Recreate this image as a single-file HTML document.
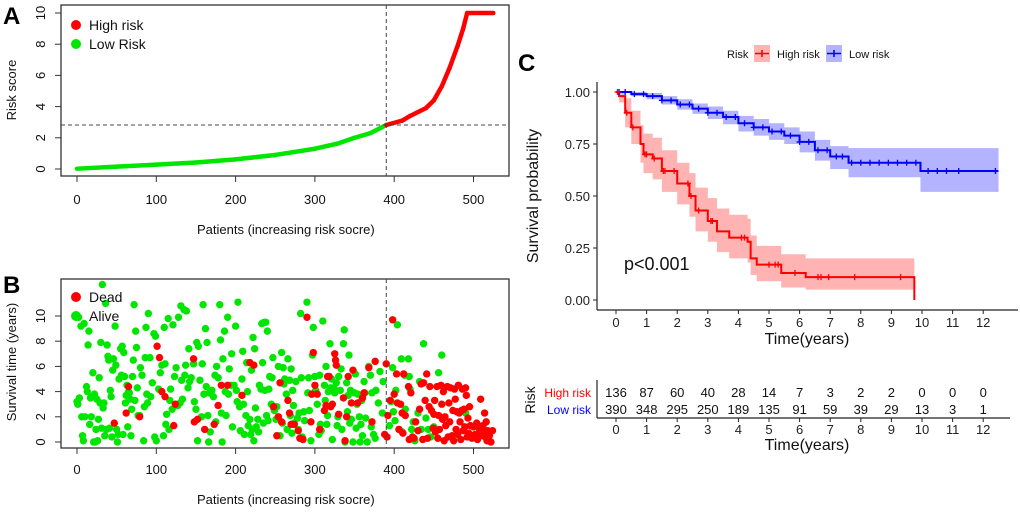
<!DOCTYPE html>
<html><head><meta charset="utf-8"><style>
html,body{margin:0;padding:0;background:#fff}
svg{display:block;font-family:"Liberation Sans",Arial,sans-serif}
</style></head><body>
<svg id="fig" width="1020" height="512" viewBox="0 0 1020 512">
<g id="panelA"></g>
<g id="panelB"></g>
<g id="panelC"></g>
</svg>
<script>
// ===== Panel A data =====
const riskPatients=[0,50,100,150,200,250,300,330,350,370,390,410,420,440,450,460,470,480,487,492,525];
const riskScores=[0.02,0.15,0.28,0.42,0.62,0.9,1.3,1.65,2.0,2.3,2.82,3.1,3.4,3.9,4.4,5.3,6.5,7.9,9.0,10,10];
const riskCutPatient=390;
const riskCutScore=2.82;
const xTicksPatients=[0,100,200,300,400,500];
const yTicksRisk=[0,2,4,6,8,10];
// ===== Panel B data =====
const alivePatients=[0,1,2,3,5,6,7,8,9,10,12,13,14,15,16,17,18,19,20,21,22,23,24,25,26,27,28,29,30,31,32,33,34,35,36,37,38,39,40,41,42,43,44,45,46,48,49,50,51,52,53,55,56,57,58,59,60,61,62,63,64,65,66,67,68,69,70,71,72,73,74,75,76,77,79,80,82,84,85,86,87,88,89,90,92,93,95,97,98,99,100,103,105,107,109,110,111,112,113,115,116,117,118,120,121,123,125,127,128,130,131,132,133,135,136,137,138,140,141,142,144,147,148,150,151,152,153,155,157,158,159,160,162,163,164,165,166,167,168,170,172,174,175,176,178,180,181,182,183,184,186,187,188,190,191,192,194,195,196,198,200,201,202,203,205,206,208,209,210,211,213,214,215,216,218,219,220,221,222,223,224,225,226,228,229,230,232,233,234,235,236,237,238,239,240,241,242,243,245,246,247,248,249,251,252,254,256,258,259,260,261,262,264,265,266,268,269,270,271,272,273,274,276,278,279,280,282,283,284,286,287,290,291,292,293,295,296,297,298,300,301,303,305,306,307,308,310,312,313,314,315,316,317,319,320,321,322,324,325,327,328,329,330,332,333,334,336,337,338,340,341,342,343,344,345,346,348,350,351,352,353,354,356,357,358,359,360,362,363,364,366,368,370,371,372,374,376,377,380,382,385,386,394,396,398,399,401,402,404,406,409,410,413,414,418,419,420,422,424,426,430,432,434,437,440,443,446,450,456,460,490,495,505];
const aliveTimes=[3.2,3.0,9.9,3.5,9.2,2.0,0.5,0.1,9.4,2.0,4.4,4.0,7.7,8.8,1.4,3.5,2.0,3.6,5.5,0,3.8,0,1.0,3.4,0.1,1.8,5.1,3.1,7.9,1.1,12.5,2.7,3.1,0.5,11.0,1.0,7.7,6.8,6.5,1.1,4.1,3.6,0.4,5.7,6.6,9.2,6.1,1.0,0.0,0.6,5.0,7.4,5.3,7.6,0.6,7.1,5.2,3.1,3.7,4.5,1.2,4.0,3.9,3.4,0.5,2.6,5.2,6.5,10.9,3.3,8.8,7.5,4.3,2.1,2.1,5.9,5.3,0.1,2.8,6.7,9.1,3.8,3.1,10.2,6.7,3.6,4.7,8.6,0.4,8.4,0.1,4.2,5.5,6.1,0.5,9.1,6.2,1.4,2.2,9.8,1.0,3.3,4.2,2.6,9.3,5.2,5.9,2.9,9.9,3.1,10.8,4.9,3.4,10.5,5.3,6.1,10.4,4.3,7.4,4.8,5.1,6.2,3.2,2.6,7.9,0.1,7.6,4.9,2.0,6.2,10.9,3.8,9.0,4.4,7.9,2.1,0.0,3.9,0.8,4.1,3.6,5.3,1.6,6.0,5.1,10.9,8.1,2.3,0.0,6.6,8.8,4.0,2.1,9.9,3.8,5.8,4.5,7.0,1.2,4.5,9.2,4.1,3.2,11.1,2.8,0.9,5.0,7.2,3.0,0.6,2.1,6.3,4.0,1.3,1.8,0.6,5.7,1.0,8.3,0.1,7.4,2.7,1.2,1.8,0.8,4.5,4.2,9.4,6.3,1.5,9.5,4.1,9.5,2.1,8.8,1.7,4.2,5.2,3.0,5.1,6.7,2.7,2.5,1.8,2.8,6.0,0.5,7.1,1.5,5.9,4.6,5.0,3.8,1.0,6.6,4.9,2.1,5.8,0.7,4.1,2.9,1.5,4.8,1.9,1.0,2.3,10.2,5.1,0.4,2.4,1.7,11.1,3.9,5.1,2.5,0.1,3.8,6.9,9.1,5.2,4.1,3.0,0.6,5.3,1.4,0.9,9.6,4.5,3.3,6.0,1.4,2.1,4.0,7.8,4.3,5.0,0.2,4.3,3.9,4.7,1.3,2.0,5.2,4.1,5.8,1.0,7.8,8.9,0.0,4.7,2.4,3.7,6.9,1.5,4.1,1.8,0.0,3.9,5.4,1.1,3.0,3.8,2.0,0.0,1.4,3.3,0.5,4.8,3.9,1.9,0.0,6.0,5.3,1.2,3.9,0.6,0.3,4.1,3.1,5.6,2.3,4.8,1.3,3.2,5.9,2.4,1.7,4.1,9.3,1.0,6.6,0.8,5.3,2.6,6.6,5.2,4.2,1.0,1.6,0.1,2.3,4.8,1.0,7.8,1.9,1.0,0.4,1.2,5.5,6.9,2.3,0.5,1.4];
const deadPatients=[47,65,62,79,101,104,107,111,122,124,147,148,152,161,173,178,182,190,208,218,223,248,252,254,256,258,266,268,270,274,279,281,285,290,295,296,298,300,303,306,312,314,316,318,320,322,325,326,327,330,336,338,340,342,346,348,354,360,362,368,372,376,388,390,391,392,395,398,400,403,404,406,408,410,411,412,414,418,419,421,423,425,427,430,432,434,436,437,439,441,442,444,445,447,449,450,451,452,454,455,456,457,459,460,461,462,463,464,465,467,468,469,470,471,473,474,475,476,477,478,479,480,481,482,483,484,485,486,487,488,489,490,491,492,493,494,495,496,498,500,502,504,505,507,508,509,510,512,513,514,515,516,517,518,520,522,524];
const deadTimes=[1.5,4.4,2.3,2.0,7.6,6.7,4.0,3.6,1.3,3.0,6.6,1.6,1.8,1.0,1.4,2.9,4.5,4.5,3.7,6.3,6.1,2.8,0.5,2.0,4.7,1.6,3.3,2.3,1.4,1.4,0.9,0.3,0.2,9.9,1.6,3.8,7.1,4.5,3.8,1.0,2.5,2.9,5.2,5.2,2.8,3.0,7.0,6.5,6.1,2.2,3.5,0.1,2.0,5.2,3.1,5.7,3.1,3.5,3.9,5.9,1.6,6.4,0.6,6.2,0.4,2.1,3.3,9.7,3.8,5.4,3.1,1.0,3.0,2.3,0.7,5.4,2.1,4.4,0.2,3.9,0.4,0.3,1.6,0.9,2.6,4.6,0.2,4.7,3.3,5.4,0.3,2.8,4.4,2.5,1.1,2.2,3.3,0.8,4.4,0.3,2.1,1.0,4.5,3.0,1.8,4.0,0.1,2.0,1.3,4.4,0.4,3.1,1.6,4.3,0.5,2.5,0.1,4.2,3.4,1.0,2.4,0.6,4.5,2.3,1.6,0.2,2.5,4.2,0.9,2.6,1.2,4.3,3.7,0.4,1.9,0.7,2.8,1.3,0.3,1.2,0.6,1.5,0.2,1.1,0.9,3.4,0.5,1.3,0.8,2.3,0.4,1.6,0.1,0.9,0.5,0.0,0.9];
const yTicksSurv=[0,2,4,6,8,10];
// ===== Panel C data =====
const highTimes=[0,0.1,0.3,0.5,0.8,0.9,1.2,1.5,2.0,2.4,2.6,3.0,3.3,3.7,4.3,4.4,4.6,5.4,6.2,9.75];
const highSurv=[1,0.98,0.9,0.83,0.75,0.7,0.68,0.62,0.56,0.5,0.43,0.38,0.33,0.3,0.28,0.2,0.17,0.13,0.11,0.11];
const highUpper=[1,1,0.97,0.91,0.84,0.8,0.78,0.72,0.66,0.61,0.54,0.49,0.44,0.41,0.39,0.31,0.26,0.22,0.2,0.2];
const highLower=[1,0.95,0.83,0.75,0.66,0.61,0.58,0.52,0.46,0.4,0.33,0.28,0.23,0.2,0.18,0.12,0.09,0.06,0.05,0.05];
const lowTimes=[0,0.5,1,1.5,2,2.5,3,3.5,4,4.5,5,5.5,6,6.5,7,7.6,9.95,12.5];
const lowSurv=[1,0.99,0.98,0.96,0.94,0.92,0.9,0.88,0.85,0.83,0.81,0.79,0.76,0.72,0.69,0.66,0.62,0.62];
const lowUpper=[1,1,0.995,0.98,0.965,0.945,0.93,0.91,0.885,0.87,0.85,0.83,0.81,0.77,0.74,0.73,0.73,0.73];
const lowLower=[1,0.98,0.965,0.94,0.915,0.895,0.87,0.845,0.81,0.79,0.77,0.75,0.71,0.67,0.63,0.59,0.52,0.52];
const highCensor=[0.05,0.35,0.55,0.95,1.0,1.25,1.55,1.6,1.9,2.35,2.45,2.7,3.1,3.15,4.1,4.2,5.0,5.2,5.3,5.85,6.6,6.7,6.95,7.8,9.3];
const lowCensor=[0.1,0.3,0.6,0.9,1.2,1.5,1.8,2.1,2.4,2.7,3.0,3.3,3.6,3.9,4.2,4.5,4.8,5.1,5.4,5.7,6.0,6.3,6.6,6.9,7.2,7.4,7.7,8.0,8.3,8.6,8.9,9.2,9.5,9.8,10.2,10.5,10.8,11.2,12.4];
const kmTicks=[0,1,2,3,4,5,6,7,8,9,10,11,12];
const yTicksProb=[0,0.25,0.5,0.75,1];
const yTickProbLabels=["0.00","0.25","0.50","0.75","1.00"];
const highAtRisk=[136,87,60,40,28,14,7,3,2,2,0,0,0];
const lowAtRisk=[390,348,295,250,189,135,91,59,39,29,13,3,1];

const NS="http://www.w3.org/2000/svg";
function mk(parent,tag,attrs,text){const e=document.createElementNS(NS,tag);for(const k in attrs)e.setAttribute(k,attrs[k]);if(text!==undefined)e.textContent=text;parent.appendChild(e);return e;}
const RED="#ff0000",GREEN="#00e600";
const px=p=>77+p*0.793;

// ---------- Panel A ----------
const A=document.getElementById('panelA');
const ay=v=>169-v*15.6;
let e=mk(A,'rect',{x:61,y:5,width:448,height:171,fill:'none',stroke:'#333','stroke-width':1.3});


xTicksPatients.forEach(t=>{mk(A,'line',{x1:px(t),x2:px(t),y1:176,y2:182,stroke:'#333'});
 e=mk(A,'text',{x:px(t),y:204,'font-size':13,'text-anchor':'middle',fill:'#111'},t);
 
 });
yTicksRisk.forEach(t=>{mk(A,'line',{x1:55,x2:61,y1:ay(t),y2:ay(t),stroke:'#333'});
 e=mk(A,'text',{x:0,y:0,transform:`translate(45,${ay(t)}) rotate(-90)`,'font-size':13,'text-anchor':'middle',fill:'#111'},t);
 
 });
for(let i=0;i<riskPatients.length-1;i++){
 const c=riskPatients[i]>=riskCutPatient?RED:GREEN;
 e=mk(A,'line',{x1:px(riskPatients[i]),y1:ay(riskScores[i]),x2:px(riskPatients[i+1]),y2:ay(riskScores[i+1]),stroke:c,'stroke-width':4.5,'stroke-linecap':'round'});
 
 
}
mk(A,'line',{x1:61,x2:509,y1:ay(riskCutScore),y2:ay(riskCutScore),stroke:'#444','stroke-dasharray':'4,3'});
mk(A,'line',{x1:px(riskCutPatient),x2:px(riskCutPatient),y1:5,y2:176,stroke:'#444','stroke-dasharray':'4,3'});
mk(A,'circle',{cx:76,cy:25,r:5,fill:RED});
e=mk(A,'text',{x:89,y:30,'font-size':14,fill:'#111'},'High risk');


mk(A,'circle',{cx:76,cy:44,r:5,fill:GREEN});
e=mk(A,'text',{x:89,y:49,'font-size':14,fill:'#111'},'Low Risk');


e=mk(A,'text',{x:197,y:234,'font-size':13,fill:'#111'},'Patients (increasing risk socre)');


e=mk(A,'text',{x:0,y:0,transform:'translate(16,90) rotate(-90)','font-size':13,'text-anchor':'middle',fill:'#111'},'Risk score');


e=mk(A,'text',{x:3,y:24,'font-size':24,'font-weight':'bold',fill:'#000'},'A');



// ---------- Panel B ----------
const B=document.getElementById('panelB');
const by=v=>442-v*12.6;
e=mk(B,'rect',{x:61,y:279,width:448,height:169,fill:'none',stroke:'#333','stroke-width':1.3});


xTicksPatients.forEach(t=>{mk(B,'line',{x1:px(t),x2:px(t),y1:448,y2:454,stroke:'#333'});
 e=mk(B,'text',{x:px(t),y:474,'font-size':13,'text-anchor':'middle',fill:'#111'},t);
 
 });
yTicksSurv.forEach(t=>{mk(B,'line',{x1:55,x2:61,y1:by(t),y2:by(t),stroke:'#333'});
 e=mk(B,'text',{x:0,y:0,transform:`translate(45,${by(t)}) rotate(-90)`,'font-size':13,'text-anchor':'middle',fill:'#111'},t);
 
 });
alivePatients.forEach((p,i)=>{e=mk(B,'circle',{cx:px(p),cy:by(aliveTimes[i]),r:3.7,fill:GREEN});
 
 });
deadPatients.forEach((p,i)=>{e=mk(B,'circle',{cx:px(p),cy:by(deadTimes[i]),r:3.7,fill:RED});
 
 });
mk(B,'line',{x1:px(riskCutPatient),x2:px(riskCutPatient),y1:279,y2:448,stroke:'#444','stroke-dasharray':'4,3'});
mk(B,'circle',{cx:76,cy:297,r:5,fill:RED});
e=mk(B,'text',{x:89,y:302,'font-size':14,fill:'#111'},'Dead');


mk(B,'circle',{cx:76,cy:316,r:5,fill:GREEN});
e=mk(B,'text',{x:89,y:321,'font-size':14,fill:'#111'},'Alive');


e=mk(B,'text',{x:197,y:504,'font-size':13,fill:'#111'},'Patients (increasing risk socre)');


e=mk(B,'text',{x:0,y:0,transform:'translate(16,362) rotate(-90)','font-size':13,'text-anchor':'middle',fill:'#111'},'Survival time (years)');


e=mk(B,'text',{x:3,y:293,'font-size':24,'font-weight':'bold',fill:'#000'},'B');



// ---------- Panel C ----------
const C=document.getElementById('panelC');
const cx=t=>616+t*30.6, cy=s=>300-s*208;
function stepPath(ts,vs){let d=`M${cx(ts[0])},${cy(vs[0])}`;for(let i=1;i<ts.length;i++){d+=`H${cx(ts[i])}V${cy(vs[i])}`;}return d;}
function bandPath(ts,up,lo){let d=`M${cx(ts[0])},${cy(up[0])}`;for(let i=1;i<ts.length;i++)d+=`H${cx(ts[i])}V${cy(up[i])}`;
 d+=`V${cy(lo[lo.length-1])}`;for(let i=ts.length-1;i>0;i--)d+=`H${cx(ts[i])}V${cy(lo[i-1])}`;d+=`H${cx(ts[0])}Z`;return d;}
e=mk(C,'path',{d:bandPath(lowTimes,lowUpper,lowLower),fill:'#9999ff','fill-opacity':0.75});


e=mk(C,'path',{d:bandPath(highTimes,highUpper,highLower),fill:'#ff9999','fill-opacity':0.75});


const lowIdx=t=>{let k=0;for(let i=0;i<lowTimes.length;i++)if(lowTimes[i]<=t)k=i;return k;};
const highIdx=t=>{let k=0;for(let i=0;i<highTimes.length;i++)if(highTimes[i]<=t)k=i;return k;};
e=mk(C,'path',{d:stepPath(lowTimes,lowSurv),fill:'none',stroke:'#0000ff','stroke-width':2});


e=mk(C,'path',{d:stepPath(highTimes,highSurv)+`V${cy(0)}`,fill:'none',stroke:'#ff0000','stroke-width':2});


lowCensor.forEach(t=>{const y=cy(lowSurv[lowIdx(t)]);e=mk(C,'path',{d:`M${cx(t)-3},${y}H${cx(t)+3}M${cx(t)},${y-3}V${y+3}`,stroke:'#0000ff','stroke-width':1.3});
 
 });
highCensor.forEach(t=>{const y=cy(highSurv[highIdx(t)]);e=mk(C,'path',{d:`M${cx(t)-3},${y}H${cx(t)+3}M${cx(t)},${y-3}V${y+3}`,stroke:'#ff0000','stroke-width':1.3});
 
 });
mk(C,'line',{x1:597,x2:597,y1:82,y2:310,stroke:'#222','stroke-width':1.2});
mk(C,'line',{x1:597,x2:1018,y1:310,y2:310,stroke:'#222','stroke-width':1.2});
yTicksProb.forEach((v,i)=>{mk(C,'line',{x1:593,x2:597,y1:cy(v),y2:cy(v),stroke:'#222'});
 e=mk(C,'text',{x:590,y:cy(v)+5,'font-size':13,'text-anchor':'end',fill:'#222'},yTickProbLabels[i]);
 
 });
kmTicks.forEach(t=>{mk(C,'line',{x1:cx(t),x2:cx(t),y1:310,y2:314,stroke:'#222'});
 e=mk(C,'text',{x:cx(t),y:327,'font-size':13,'text-anchor':'middle',fill:'#222'},t);
 
 });
e=mk(C,'text',{x:807,y:344,'font-size':16,'text-anchor':'middle',fill:'#111'},'Time(years)');


e=mk(C,'text',{x:0,y:0,transform:'translate(538,196) rotate(-90)','font-size':16,'text-anchor':'middle',fill:'#111'},'Survival probability');


e=mk(C,'text',{x:624,y:270,'font-size':18,fill:'#111'},'p<0.001');


e=mk(C,'text',{x:518,y:71,'font-size':24,'font-weight':'bold',fill:'#000'},'C');


e=mk(C,'text',{x:727,y:58,'font-size':11,fill:'#111'},'Risk');


mk(C,'rect',{x:754,y:45,width:16,height:17,fill:'#ffb3b3'});
mk(C,'path',{d:'M755,53.5H769M762,50V57',stroke:'#ff0000','stroke-width':1.6});
e=mk(C,'text',{x:777,y:58,'font-size':11,fill:'#111'},'High risk');


mk(C,'rect',{x:826,y:45,width:16,height:17,fill:'#b3b3ff'});
mk(C,'path',{d:'M827,53.5H841M834,50V57',stroke:'#0000ff','stroke-width':1.6});
e=mk(C,'text',{x:849,y:58,'font-size':11,fill:'#111'},'Low risk');


mk(C,'line',{x1:597,x2:597,y1:380,y2:418,stroke:'#222','stroke-width':1.2});
mk(C,'line',{x1:597,x2:1010,y1:418,y2:418,stroke:'#222','stroke-width':1.2});
e=mk(C,'text',{x:591,y:397,'font-size':12,'text-anchor':'end',fill:'#ff0000'},'High risk');


e=mk(C,'text',{x:591,y:414,'font-size':12,'text-anchor':'end',fill:'#0000ff'},'Low risk');


e=mk(C,'text',{x:0,y:0,transform:'translate(535,400) rotate(-90)','font-size':14,'text-anchor':'middle',fill:'#111'},'Risk');


kmTicks.forEach((t,i)=>{
 e=mk(C,'text',{x:cx(t),y:397,'font-size':13,'text-anchor':'middle',fill:'#111'},highAtRisk[i]);
 
 
 e=mk(C,'text',{x:cx(t),y:414,'font-size':13,'text-anchor':'middle',fill:'#111'},lowAtRisk[i]);
 
 
 mk(C,'line',{x1:cx(t),x2:cx(t),y1:418,y2:422,stroke:'#222'});
 e=mk(C,'text',{x:cx(t),y:434,'font-size':13,'text-anchor':'middle',fill:'#222'},t);
 
 
});
e=mk(C,'text',{x:807,y:450,'font-size':16,'text-anchor':'middle',fill:'#111'},'Time(years)');


</script>
</body></html>
